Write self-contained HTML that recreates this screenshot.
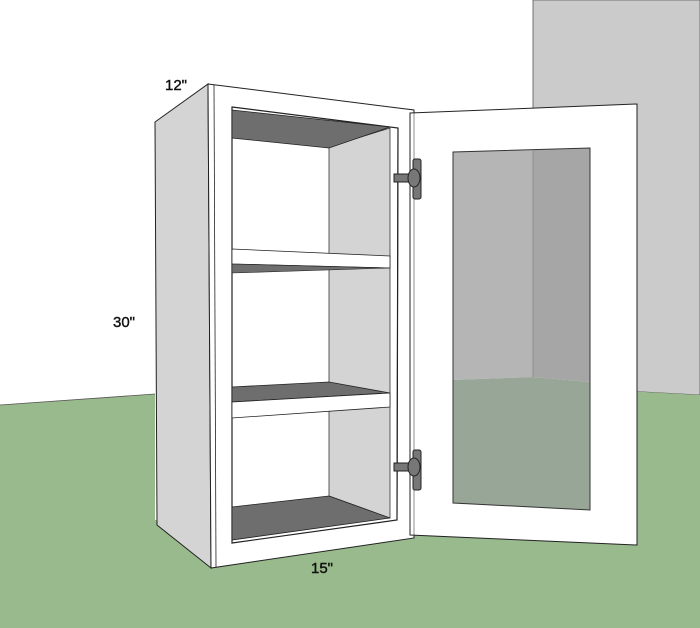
<!DOCTYPE html>
<html><head><style>body{margin:0;background:#fff}svg{display:block}text{font-family:"Liberation Sans",sans-serif;font-size:15px;fill:#111;stroke:#111;stroke-width:0.4}</style></head><body>
<svg width="700" height="628" viewBox="0 0 700 628" xmlns="http://www.w3.org/2000/svg">
<rect width="700" height="628" fill="#fff"/>
<polygon points="533,0 700,0 700,395 533,386" fill="#cbcbcb" stroke="#555" stroke-width="0.8"/>
<polygon points="0,405 155,394 155,628 0,628" fill="#98ba8c"/>
<polygon points="533,386 700,395 700,628 380,628 420,500" fill="#98ba8c"/>
<rect x="150" y="520" width="550" height="108" fill="#98ba8c"/>
<line x1="0" y1="405" x2="155" y2="394" stroke="#555" stroke-width="0.8"/>
<!-- side -->
<polygon points="155,122 208,84 211,568 157,525" fill="#d4d4d4" stroke="#222" stroke-width="1"/>
<!-- front -->
<polygon points="208,84 414,110 414,538 211,568" fill="#fff" stroke="#222" stroke-width="1"/>
<line x1="214" y1="85" x2="216" y2="567" stroke="#222" stroke-width="0.8"/>
<!-- opening -->
<polygon points="232,107 398,128 397,520 232,543" fill="#fff" stroke="#222" stroke-width="1.2"/>
<polygon points="329,147 390,128 390,518 329,496" fill="#d4d4d4" stroke="#333" stroke-width="0.8"/>
<polygon points="232,110 390,127 329,148 232,138" fill="#6e6e6e" stroke="#222" stroke-width="0.8"/>
<!-- shelf 1 -->
<polygon points="232,249 390,256 390,268 232,264" fill="#fff" stroke="#222" stroke-width="0.8"/>
<polygon points="232,264 390,268 232,273" fill="#6e6e6e" stroke="#222" stroke-width="0.6"/>
<!-- shelf 2 -->
<polygon points="232,387 329,382 390,393 232,402" fill="#6e6e6e" stroke="#222" stroke-width="0.8"/>
<polygon points="232,402 390,393 390,407 232,418" fill="#fff" stroke="#222" stroke-width="0.8"/>
<!-- bottom -->
<polygon points="232,507 329,496 390,518 232,540" fill="#6e6e6e" stroke="#222" stroke-width="0.8"/>
<line x1="398" y1="128" x2="397" y2="520" stroke="#222" stroke-width="1"/>
<!-- door -->
<polygon points="410,113 637,104 637,545 410,535" fill="#fff" stroke="#222" stroke-width="1"/>
<line x1="414" y1="113" x2="414" y2="536" stroke="#444" stroke-width="0.6"/>
<polygon points="453,152 533,150 533,377 453,380" fill="#b5b5b5"/>
<polygon points="533,150 590,148 590,382 533,377" fill="#a6a6a6"/>
<polygon points="453,380 533,377 590,382 590,510 453,503" fill="#98a698"/>
<polygon points="453,152 590,148 590,510 453,503" fill="none" stroke="#333" stroke-width="1"/>
<line x1="533" y1="150" x2="533" y2="377" stroke="#888" stroke-width="0.8"/>
<!-- hinges -->
<g fill="#777" stroke="#222" stroke-width="1">
<rect x="413" y="159" width="8" height="40" rx="2"/>
<rect x="394" y="174" width="16" height="8"/>
<ellipse cx="414" cy="178" rx="6" ry="9"/>
<rect x="413" y="450" width="8" height="40" rx="2"/>
<rect x="394" y="463" width="16" height="8"/>
<ellipse cx="414" cy="467" rx="6" ry="9"/>
</g>
<text x="165" y="90">12"</text>
<text x="113" y="327">30"</text>
<text x="311" y="573">15"</text>
</svg>
</body></html>
